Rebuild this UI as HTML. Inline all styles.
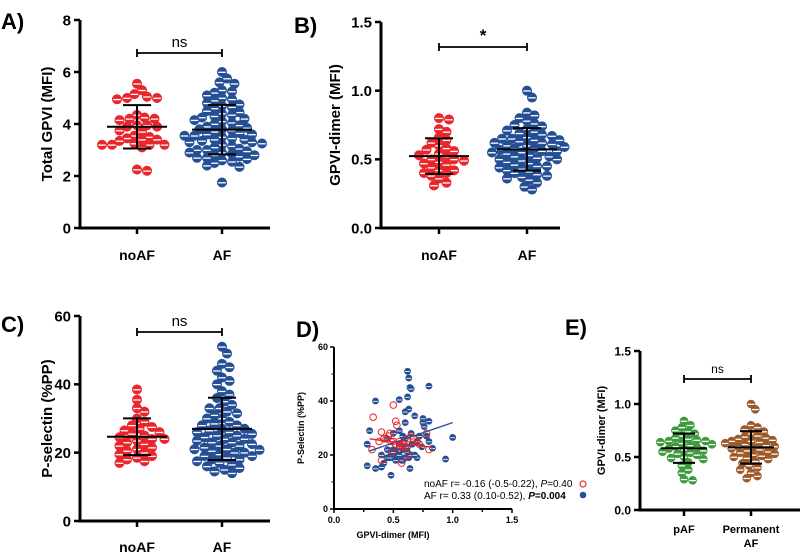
<!DOCTYPE html>
<html><head><meta charset="utf-8">
<style>
html,body{margin:0;padding:0;background:#fff;}
svg{display:block;font-family:"Liberation Sans",Arial,sans-serif;}
</style></head>
<body>
<svg id="fig" width="800" height="553" viewBox="0 0 800 553" xmlns="http://www.w3.org/2000/svg"></svg>
<script>
// ---- data ----
const A_noAF = [5.55,5.3,5.15,5.05,5.0,5.0,4.95,4.35,4.25,4.2,4.2,4.15,3.95,3.95,3.9,3.9,3.75,3.7,3.55,3.5,3.45,3.4,3.4,3.35,3.25,3.2,3.2,3.2,3.2,3.1,2.25,2.2];
const A_AF = [6.0,5.75,5.6,5.55,5.3,5.25,5.2,5.1,5.0,4.95,4.9,4.8,4.75,4.7,4.65,4.6,4.5,4.45,4.4,4.35,4.3,4.25,4.2,4.15,4.1,4.05,4.0,3.95,3.9,3.85,3.8,3.8,3.75,3.7,3.65,3.6,3.6,3.55,3.55,3.5,3.45,3.4,3.4,3.35,3.3,3.3,3.25,3.2,3.15,3.1,3.05,3.0,3.0,2.95,2.9,2.9,2.85,2.8,2.8,2.75,2.7,2.7,2.65,2.6,2.55,2.5,2.4,2.35,1.75];
const B_noAF = [0.8,0.79,0.72,0.7,0.66,0.64,0.62,0.6,0.58,0.57,0.56,0.54,0.53,0.52,0.5,0.5,0.49,0.48,0.47,0.46,0.44,0.42,0.42,0.4,0.4,0.38,0.36,0.33,0.31];
const B_AF = [1.0,0.95,0.84,0.82,0.8,0.78,0.76,0.75,0.74,0.72,0.71,0.7,0.69,0.68,0.67,0.66,0.65,0.65,0.64,0.64,0.63,0.62,0.62,0.61,0.6,0.6,0.59,0.58,0.58,0.57,0.56,0.56,0.55,0.55,0.54,0.53,0.52,0.52,0.51,0.5,0.5,0.49,0.48,0.47,0.46,0.45,0.45,0.44,0.43,0.42,0.41,0.4,0.39,0.38,0.37,0.36,0.35,0.33,0.3,0.28];
const C_noAF = [38.5,35.5,33,32,30,29,28,27.5,27,26.5,26,25.5,25,24.5,24,24,23.5,23,22.5,22,21.5,21,20.5,20,19.5,19,18.5,18,17.5,17];
const C_AF = [51,49,46,45,44,42,41,40,38,37,36,35,34,33,33,32,31,30,30,29,28,28,27,27,26,26,25.5,25,25,24.5,24,24,23.5,23,23,22.5,22,22,21.5,21,21,20.5,20,20,19.5,19,19,18.5,18,18,17.5,17,16.5,16,15.5,15,14.5,14,26.5,28.5,31.5,20.8];
const E_pAF = [0.84,0.8,0.78,0.75,0.74,0.72,0.7,0.68,0.67,0.66,0.65,0.65,0.64,0.63,0.62,0.61,0.6,0.59,0.58,0.57,0.56,0.55,0.54,0.53,0.52,0.5,0.49,0.48,0.45,0.42,0.38,0.35,0.29,0.28];
const E_perm = [1.0,0.95,0.8,0.78,0.76,0.74,0.72,0.7,0.69,0.68,0.67,0.66,0.65,0.65,0.64,0.63,0.62,0.61,0.6,0.6,0.59,0.58,0.57,0.56,0.55,0.54,0.53,0.52,0.51,0.5,0.49,0.48,0.46,0.44,0.42,0.4,0.38,0.35,0.32,0.3];
const D_AF_x = [0.62,0.63,0.64,0.65,0.8,0.35,0.55,0.62,0.63,0.6,0.68,0.75,0.75,0.8,0.76,0.6,0.3,0.28,0.45,0.5,0.55,0.58,0.6,0.65,0.7,0.72,0.78,0.8,1.0,0.55,0.45,0.5,0.52,0.6,0.62,0.66,0.7,0.74,0.83,0.4,0.42,0.45,0.48,0.5,0.55,0.58,0.6,0.63,0.65,0.7,0.28,0.35,0.4,0.47,0.52,0.57,0.64,0.94,0.48,0.58,0.62,0.68,0.55,0.5];
const D_AF_y = [51,48.5,45,44.5,45.5,40,40.5,41.5,37,36,34.5,33.5,32,32.5,30.5,32,29,24,26,28,29,27,26,28,25,27,27,25,26.5,24,22,22,21,23,21,24,25,23,22.5,20,17,19,21,19,20,18,19,19,20,19,16,15,15.5,19,18,18,15,18.5,12.5,22,23,20,23,21];
const D_noAF_x = [0.33,0.5,0.52,0.53,0.4,0.42,0.46,0.47,0.48,0.5,0.55,0.58,0.6,0.62,0.65,0.67,0.7,0.72,0.78,0.8,0.32,0.38,0.44,0.49,0.52,0.56,0.58,0.63,0.4,0.57];
const D_noAF_y = [34,38.5,32.5,31,28.5,26,27,28,25,25,25,24,23,26,27,26,25,24,28,22,22,25,26,21,24,23,23,20,18,17];
const D_fit_noAF = [[0.3,26],[0.8,23]];
const D_fit_AF = [[0.3,21.5],[1.0,32]];

const S = document.getElementById('fig');
const NS = 'http://www.w3.org/2000/svg';
function mk(tag, attrs, parent, text){
  const e = document.createElementNS(NS, tag);
  for (const k in attrs) e.setAttribute(k, attrs[k]);
  if (text !== undefined) e.textContent = text;
  (parent||S).appendChild(e);
  return e;
}
function mean(a){return a.reduce((s,v)=>s+v,0)/a.length;}
function sd(a){const m=mean(a);return Math.sqrt(a.reduce((s,v)=>s+(v-m)*(v-m),0)/(a.length-1));}

function swarm(vals, cx, ys, r){
  const placed=[];
  const sorted = vals.slice().sort((a,b)=>b-a);
  sorted.forEach(v=>{
    const y=ys(v); let k=0, x=cx;
    while(true){
      const off = k===0?0:(k%2?1:-1)*Math.ceil(k/2)*r*0.5;
      x=cx+off;
      if(placed.every(p=>(p.x-x)**2+(p.y-y)**2 >= (1.55*r)**2)) break;
      k++;
    }
    placed.push({x,y,v});
  });
  return placed;
}

function dotPanel(o){
  const g = mk('g',{});
  
  
  const ys = v => o.y0 + (v - o.min)/(o.max-o.min)*(o.y1-o.y0);
  const ax = mk('path',{d:`M${o.ax} ${o.y1} V${o.y0} H${o.xEnd}`,stroke:'#000','stroke-width':3,fill:'none'},g);
   
  o.ticks.forEach(t=>{
    const y=ys(t);
    mk('line',{x1:o.ax-6,x2:o.ax,y1:y,y2:y,stroke:'#000','stroke-width':2.5},g);
    const tl=mk('text',{x:o.ax-9,y:y+o.fs*0.36,'text-anchor':'end','font-size':o.fs,'font-weight':'bold'},g,o.fmt(t));
     
  });
  const yt=mk('text',{transform:`translate(${o.titleX},${(o.y0+o.y1)/2}) rotate(-90)`,'text-anchor':'middle','font-size':o.tfs,'font-weight':'bold'},g,o.ytitle);
   
  o.groups.forEach((gr,i)=>{
    const cx=o.cx[i];
    mk('line',{x1:cx,x2:cx,y1:o.y0,y2:o.y0+6,stroke:'#000','stroke-width':2.5},g);
    gr.label.forEach((ln,j)=>{
      const t=mk('text',{x:cx,y:o.labY+j*14,'text-anchor':'middle','font-size':o.lfs,'font-weight':'bold'},g,ln);
       
    });
    swarm(gr.vals,cx,ys,o.r).forEach(p=>{
      const c=mk('circle',{cx:p.x,cy:p.y,r:o.r-0.3,fill:gr.color,stroke:gr.color,'stroke-width':0.6},g);
       
      mk('line',{x1:p.x-o.r*0.75,x2:p.x+o.r*0.75,y1:p.y+0.3,y2:p.y+0.3,stroke:'#fff','stroke-width':1.3},g);
    });
    const m=mean(gr.vals), s=sd(gr.vals);
    const eb=mk('g',{},g);  
    mk('line',{x1:cx-o.mw,x2:cx+o.mw,y1:ys(m),y2:ys(m),stroke:'#000','stroke-width':2},eb);
    mk('line',{x1:cx,x2:cx,y1:ys(m+s),y2:ys(m-s),stroke:'#000','stroke-width':2},eb);
    mk('line',{x1:cx-o.cw,x2:cx+o.cw,y1:ys(m+s),y2:ys(m+s),stroke:'#000','stroke-width':2},eb);
    mk('line',{x1:cx-o.cw,x2:cx+o.cw,y1:ys(m-s),y2:ys(m-s),stroke:'#000','stroke-width':2},eb);
  });
  const br=mk('g',{},g);  
  mk('path',{d:`M${o.cx[0]} ${o.brY-4} V${o.brY+4} M${o.cx[0]} ${o.brY} H${o.cx[1]} M${o.cx[1]} ${o.brY-4} V${o.brY+4}`,stroke:'#000','stroke-width':1.8,fill:'none'},br);
  mk('text',{x:(o.cx[0]+o.cx[1])/2,y:o.brY-6,'text-anchor':'middle','font-size':o.sigfs,'font-weight':o.sig==='*'?'bold':'normal'},br,o.sig);
  const pl=mk('text',{x:o.letter[0],y:o.letter[1],'font-size':22,'font-weight':'bold'},g,o.letterTxt);
   
}
const RED='#e8262b', BLUE='#244f95';
dotPanel({name:'panel-a',ax:80,xEnd:270,y0:228,y1:20,min:0,max:8,ticks:[0,2,4,6,8],fmt:t=>t,fs:15,tfs:15,lfs:14,titleX:52,ytitle:'Total GPVI (MFI)',
  cx:[137,222],labY:260,r:5,mw:30,cw:14,brY:53,sig:'ns',sigfs:15,letter:[1,29],letterTxt:'A)',
  groups:[{vals:A_noAF,color:RED,label:['noAF']},{vals:A_AF,color:BLUE,label:['AF']}]});
dotPanel({name:'panel-b',ax:381,xEnd:560,y0:228,y1:22,min:0,max:1.5,ticks:[0,0.5,1,1.5],fmt:t=>t.toFixed(1),fs:15,tfs:15,lfs:14,titleX:340,ytitle:'GPVI-dimer (MFI)',
  cx:[439,527],labY:260,r:5,mw:30,cw:14,brY:47,sig:'*',sigfs:17,letter:[294,33],letterTxt:'B)',
  groups:[{vals:B_noAF,color:RED,label:['noAF']},{vals:B_AF,color:BLUE,label:['AF']}]});
dotPanel({name:'panel-c',ax:80,xEnd:270,y0:521,y1:316,min:0,max:60,ticks:[0,20,40,60],fmt:t=>t,fs:15,tfs:15,lfs:14,titleX:52,ytitle:'P-selectin (%PP)',
  cx:[137,222],labY:553-1,r:5,mw:30,cw:14,brY:332,sig:'ns',sigfs:15,letter:[1,332],letterTxt:'C)',
  groups:[{vals:C_noAF,color:RED,label:['noAF']},{vals:C_AF,color:BLUE,label:['AF']}]});
dotPanel({name:'panel-e',ax:640,xEnd:800,y0:510,y1:351,min:0,max:1.5,ticks:[0,0.5,1,1.5],fmt:t=>t.toFixed(1),fs:12,tfs:11,lfs:11,titleX:605,ytitle:'GPVI-dimer (MFI)',
  cx:[684,751],labY:533,r:4.3,mw:23,cw:11,brY:379,sig:'ns',sigfs:12,letter:[565,335],letterTxt:'E)',
  groups:[{vals:E_pAF,color:'#3d9a3d',label:['pAF']},{vals:E_perm,color:'#9c5a2a',label:['Permanent','AF']}]});

// ---- Panel D scatter ----
(function(){
  const g=mk('g',{});  
  const X0=334,X1=512,Y0=509,Y1=347;
  const xs=v=>X0+v/1.5*(X1-X0), ys=v=>Y0-v/60*(Y0-Y1);
  mk('path',{d:`M${X0} ${Y1} V${Y0} H${X1}`,stroke:'#000','stroke-width':2,fill:'none'},g);
  [0,20,40,60].forEach(t=>{
    mk('line',{x1:X0-4,x2:X0,y1:ys(t),y2:ys(t),stroke:'#000','stroke-width':1.5},g);
    mk('text',{x:X0-6,y:ys(t)+3,'text-anchor':'end','font-size':9,'font-weight':'bold'},g,t);
  });
  [10,30,50].forEach(t=>mk('line',{x1:X0-2.5,x2:X0,y1:ys(t),y2:ys(t),stroke:'#000','stroke-width':1},g));
  [0,0.25,0.5,0.75,1,1.25,1.5].forEach((t,i)=>{
    mk('line',{x1:xs(t),x2:xs(t),y1:Y0,y2:Y0+(i%2?3:4),stroke:'#000','stroke-width':1.5},g);
    if(i%2===0) mk('text',{x:xs(t),y:Y0+14,'text-anchor':'middle','font-size':9,'font-weight':'bold'},g,t.toFixed(1));
  });
  const xt=mk('text',{x:(X0+X1)/2-30,y:Y0+29,'text-anchor':'middle','font-size':9,'font-weight':'bold'},g,'GPVI-dimer (MFI)');
   
  const yt=mk('text',{transform:`translate(${X0-30},${(Y0+Y1)/2}) rotate(-90)`,'text-anchor':'middle','font-size':9,'font-weight':'bold'},g,'P-Selectin (%PP)');
   
  D_AF_x.forEach((x,i)=>{
    const c=mk('circle',{cx:xs(x),cy:ys(D_AF_y[i]),r:3.4,fill:BLUE},g);
     
    mk('line',{x1:xs(x)-2.5,x2:xs(x)+2.5,y1:ys(D_AF_y[i])+0.3,y2:ys(D_AF_y[i])+0.3,stroke:'#fff','stroke-width':0.8},g);
  });
  D_noAF_x.forEach((x,i)=>{
    const c=mk('circle',{cx:xs(x),cy:ys(D_noAF_y[i]),r:3.3,fill:'none',stroke:RED,'stroke-width':1},g);
     
  });
  const l1=mk('line',{x1:xs(D_fit_AF[0][0]),y1:ys(D_fit_AF[0][1]),x2:xs(D_fit_AF[1][0]),y2:ys(D_fit_AF[1][1]),stroke:BLUE,'stroke-width':1.4},g);
   
  const l2=mk('line',{x1:xs(D_fit_noAF[0][0]),y1:ys(D_fit_noAF[0][1]),x2:xs(D_fit_noAF[1][0]),y2:ys(D_fit_noAF[1][1]),stroke:RED,'stroke-width':1.4},g);
   
  const lg=mk('g',{},g);  
  const t1=mk('text',{x:424,y:487,'font-size':10},lg);
  t1.innerHTML='noAF r= -0.16 (-0.5-0.22), <tspan font-style="italic">P</tspan>=0.40';
  mk('circle',{cx:583,cy:484,r:3,fill:'none',stroke:RED,'stroke-width':1.2},lg);
  const t2=mk('text',{x:424,y:499,'font-size':10},lg);
  t2.innerHTML='AF r= 0.33 (0.10-0.52), <tspan font-style="italic" font-weight="bold">P</tspan><tspan font-weight="bold">=0.004</tspan>';
  mk('circle',{cx:583,cy:495,r:3.3,fill:BLUE},lg);
  const pl=mk('text',{x:296,y:337,'font-size':22,'font-weight':'bold'},g,'D)');
   
})();
</script>
</body></html>
